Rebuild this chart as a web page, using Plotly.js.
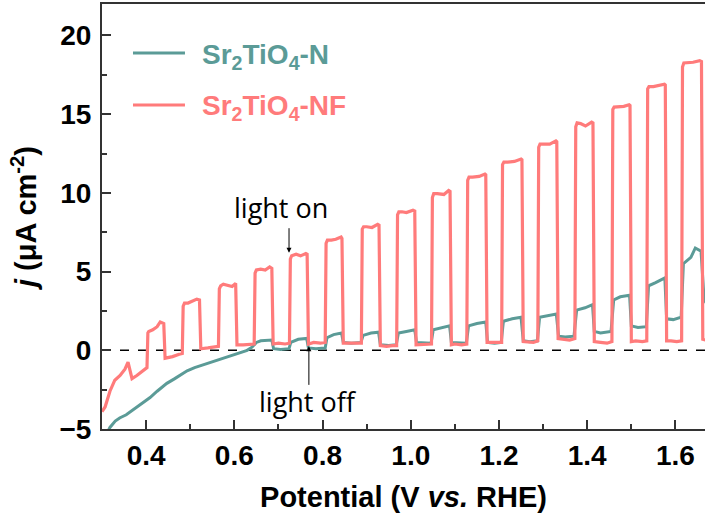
<!DOCTYPE html>
<html>
<head>
<meta charset="utf-8">
<script src="https://cdn.plot.ly/plotly-3.0.1.min.js"></script>
<style>html,body{margin:0;padding:0;overflow:hidden;background:#fff;}</style>
</head>
<body>
<div id="chart" style="width:705px;height:517px;"></div>
<script>
// ---- Data ----
const seriesNames = ['Sr<sub>2</sub>TiO<sub>4</sub>-N', 'Sr<sub>2</sub>TiO<sub>4</sub>-NF'];

// Sr2TiO4-N (teal)
const nPotential = [0.305,0.318,0.330,0.340,0.355,0.370,0.390,0.409,0.425,0.447,0.465,0.493,0.510,0.538,0.560,0.583,0.605,0.629,0.640,0.650,0.660,0.685,
 0.689,0.705,0.724, 0.728,0.745,0.764, 0.768,0.785,0.806, 0.810,0.825,0.843, 0.847,0.865,0.887, 0.892,0.910,0.927,
 0.931,0.950,0.967, 0.972,0.990,1.009, 1.013,1.030,1.046, 1.051,1.070,1.088, 1.092,1.110,1.126, 1.131,1.150,1.170,
 1.174,1.190,1.205, 1.210,1.230,1.250, 1.255,1.270,1.287, 1.292,1.310,1.330, 1.335,1.350,1.370, 1.376,1.395,1.412,
 1.416,1.430,1.454, 1.460,1.475,1.496, 1.500,1.515,1.534, 1.539,1.555,1.576, 1.580,1.595,1.613, 1.618,1.635,1.645,1.658, 1.665,1.670];
const nCurrent = [-5.6,-4.9,-4.5,-4.3,-4.1,-3.8,-3.4,-3.0,-2.6,-2.1,-1.8,-1.3,-1.1,-0.85,-0.65,-0.45,-0.25,0.0,0.2,0.5,0.6,0.65,
 0.1,0.05,0.1, 0.5,0.7,0.75, 0.15,0.1,0.15, 0.8,1.0,1.1, 0.5,0.45,0.5, 0.95,1.1,1.15,
 0.35,0.3,0.35, 1.1,1.2,1.3, 0.5,0.45,0.45, 1.3,1.45,1.55, 0.5,0.45,0.45, 1.55,1.7,1.8,
 0.5,0.45,0.5, 1.85,2.0,2.1, 0.6,0.55,0.6, 2.1,2.2,2.3, 0.9,0.85,0.9, 2.55,2.7,2.9,
 1.2,1.1,1.2, 3.2,3.4,3.5, 1.55,1.45,1.5, 4.1,4.3,4.6, 2.0,1.95,2.1, 5.5,5.9,6.5,6.3, 3.2,3.0];

// Sr2TiO4-NF (pink)
const nfPotential = [0.300,0.307,0.318,0.329,0.341,0.352,0.359,0.368,0.379,0.393,0.402,
 0.404,0.406,0.415,0.425,0.432,0.440, 0.443,0.460,0.475,0.482,
 0.484,0.487,0.495,0.505,0.515,0.521, 0.524,0.540,0.555,0.564,
 0.566,0.569,0.575,0.585,0.595,0.603, 0.606,0.620,0.635,0.645,
 0.647,0.650,0.660,0.670,0.680,0.685, 0.688,0.700,0.715,0.725,
 0.727,0.730,0.740,0.750,0.762,0.765, 0.768,0.780,0.795,0.806,
 0.808,0.811,0.820,0.830,0.842,0.844, 0.847,0.860,0.875,0.888,
 0.890,0.893,0.900,0.912,0.925,0.928, 0.931,0.945,0.958,0.968,
 0.970,0.973,0.980,0.990,1.005,1.009, 1.012,1.025,1.038,1.047,
 1.049,1.052,1.060,1.075,1.086,1.089, 1.092,1.100,1.115,1.127,
 1.129,1.132,1.140,1.155,1.168,1.170, 1.173,1.185,1.197,1.206,
 1.208,1.211,1.220,1.235,1.250,1.252, 1.255,1.265,1.278,1.288,
 1.290,1.293,1.300,1.315,1.329,1.331, 1.334,1.345,1.360,1.372,
 1.374,1.377,1.385,1.396,1.410,1.413, 1.416,1.430,1.445,1.456,
 1.458,1.461,1.470,1.483,1.495,1.497, 1.500,1.510,1.525,1.535,
 1.537,1.540,1.550,1.562,1.575,1.577, 1.580,1.590,1.603,1.614,
 1.616,1.619,1.628,1.640,1.655,1.659, 1.662,1.668];
const nfCurrent = [-3.9,-3.6,-2.6,-1.9,-1.6,-1.2,-0.75,-1.8,-1.6,-1.3,-1.1,
 1.1,1.2,1.3,1.5,1.8,1.7, -0.5,-0.4,-0.25,-0.2,
 2.8,3.0,3.0,3.1,3.25,3.2, 0.1,0.15,0.2,0.25,
 3.9,4.1,4.2,4.1,4.05,4.25, 0.35,0.35,0.4,0.4,
 4.9,5.1,5.15,5.1,5.3,5.2, 0.4,0.45,0.4,0.45,
 5.8,6.0,6.1,6.0,6.15,6.1, 0.4,0.5,0.45,0.5,
 6.8,7.0,7.0,7.05,7.2,7.1, 0.45,0.45,0.4,0.45,
 7.7,7.85,7.85,7.8,8.0,7.95, 0.3,0.25,0.3,0.3,
 8.6,8.8,8.8,8.75,8.9,8.85, 0.35,0.35,0.4,0.4,
 9.7,9.95,9.95,9.9,10.15,10.1, 0.35,0.4,0.35,0.4,
 10.8,11.0,11.0,11.05,11.2,11.15, 0.5,0.5,0.45,0.5,
 11.8,11.95,11.95,12.0,12.15,12.1, 0.55,0.55,0.5,0.6,
 12.9,13.1,13.1,13.1,13.3,13.25, 0.75,0.7,0.65,0.75,
 14.2,14.45,14.4,14.25,14.5,14.45, 0.55,0.5,0.45,0.55,
 15.3,15.45,15.45,15.5,15.6,15.55, 0.55,0.6,0.55,0.6,
 16.6,16.75,16.75,16.8,16.9,16.85, 0.6,0.6,0.55,0.6,
 18.0,18.25,18.25,18.3,18.4,18.35, 0.7,0.65];

const xTickStart = 0.4, xTickStep = 0.2, xMinorStep = 0.1;
const yTickStep = 5, yMinorStep = 2.5;
const baselineCurrent = 0;

// ---- Styles ----
const teal = '#5b9b97';
const pink = '#ff7b7b';
const axisColor = '#333333';
const fam = 'Liberation Sans, Arial, sans-serif';
const tickFont = {family: fam, size: 28, color: '#000', weight: 'bold'};
const titleFont = {family: fam, size: 29, color: '#000', weight: 'bold'};
const legendFontSize = 28;
const colors = [teal, pink];

const traces = [
  {x: nPotential, y: nCurrent, type: 'scatter', mode: 'lines', name: seriesNames[0],
   line: {color: teal, width: 3}, showlegend: false},
  {x: nfPotential, y: nfCurrent, type: 'scatter', mode: 'lines', name: seriesNames[1],
   line: {color: pink, width: 3.2}, showlegend: false}
];

// Legend drawn as paper-positioned layout items
const legendX0 = 0.0514, legendX1 = 0.1376, legendTextX = 0.1625;
const legendRowsY = [0.8847, 0.7624];
const legendShapes = legendRowsY.map((yy, i) => ({
  type: 'line', xref: 'paper', yref: 'paper', x0: legendX0, x1: legendX1, y0: yy, y1: yy,
  line: {color: colors[i], width: 3}
}));
const legendTexts = legendRowsY.map((yy, i) => ({
  xref: 'paper', yref: 'paper', x: legendTextX, y: yy, xanchor: 'left', yanchor: 'middle',
  text: seriesNames[i], showarrow: false, yshift: -3,
  font: {family: fam, size: legendFontSize, color: colors[i], weight: 'bold'}
}));

const layout = {
  width: 705, height: 517,
  margin: {l: 102, r: 0, t: 4, b: 88},
  paper_bgcolor: '#fff', plot_bgcolor: '#fff',
  showlegend: false,
  xaxis: {
    range: [0.3, 1.667], tick0: xTickStart, dtick: xTickStep, tickformat: '.1f',
    ticks: 'inside', ticklen: 9, tickwidth: 2, tickcolor: axisColor,
    minor: {dtick: xMinorStep, tick0: 0.3, ticks: 'inside', ticklen: 5, tickwidth: 2, tickcolor: axisColor, showgrid: false},
    showline: true, linewidth: 2, linecolor: axisColor, mirror: true,
    showgrid: false, zeroline: false, tickfont: tickFont, automargin: false,
    title: {text: 'Potential (V <i>vs.</i> RHE)', font: titleFont, standoff: 17}
  },
  yaxis: {
    range: [-5, 22], dtick: yTickStep, tick0: 0,
    ticks: 'inside', ticklen: 9, tickwidth: 2, tickcolor: axisColor,
    minor: {dtick: yMinorStep, tick0: 0, ticks: 'inside', ticklen: 5, tickwidth: 2, tickcolor: axisColor, showgrid: false},
    showline: true, linewidth: 2, linecolor: axisColor, mirror: false,
    showgrid: false, zeroline: false, tickfont: tickFont, ticklabelstandoff: 3, automargin: true,
    title: {text: '<i>j</i> (μA cm<sup>-2</sup>)', font: titleFont, standoff: 14}
  },
  shapes: [
    {type: 'line', xref: 'paper', x0: 0, x1: 1, yref: 'y', y0: baselineCurrent, y1: baselineCurrent,
     line: {color: '#000', width: 1.5, dash: 'dash'}, layer: 'below'}
  ].concat(legendShapes),
  annotations: [
    {x: 0.706, y: 9.05, xref: 'x', yref: 'y', text: 'light on', showarrow: false,
     font: {family: 'Open Sans, sans-serif', size: 27, color: '#000'}},
    {x: 0.724, y: 6.2, xref: 'x', yref: 'y', text: '', showarrow: true, ax: 0, ay: -26,
     arrowhead: 2, arrowsize: 1, arrowwidth: 1, arrowcolor: '#000'},
    {x: 0.767, y: -3.23, xref: 'x', yref: 'y', text: 'light off', showarrow: false,
     font: {family: 'Open Sans, sans-serif', size: 27, color: '#000'}},
    {x: 0.769, y: 0.25, xref: 'x', yref: 'y', text: '', showarrow: true, ax: 0, ay: 40,
     arrowhead: 2, arrowsize: 1, arrowwidth: 1, arrowcolor: '#000'}
  ].concat(legendTexts)
};

Plotly.newPlot('chart', traces, layout, {displayModeBar: false, staticPlot: true});
</script>
</body>
</html>
